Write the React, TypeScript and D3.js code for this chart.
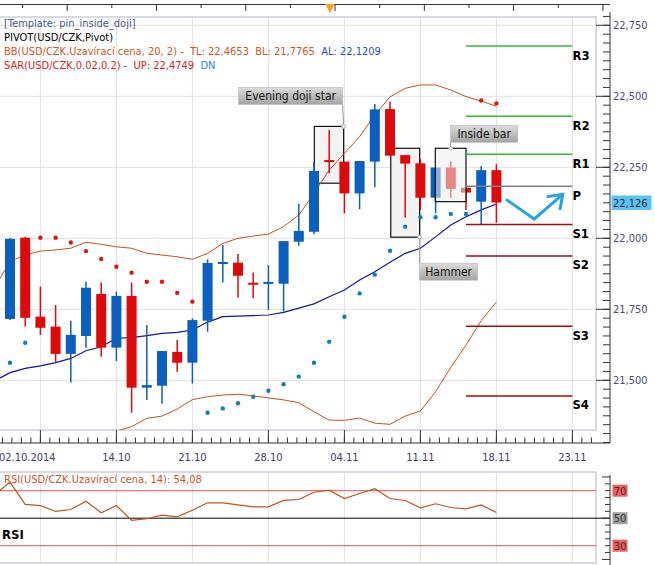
import * as d3 from "d3";

// daily candles, index 0 = first visible bar
const opens = [21.716, 22.002, 21.724, 21.689, 21.593, 21.656, 21.804, 21.615, 21.797, 21.474, 21.481, 21.6, 21.562, 21.71, 21.911, 21.914, 21.84, 21.84, 21.84, 21.988, 22.023, 22.272, 22.27, 22.158, 22.27, 22.455, 22.293, 22.264, 22.143, 22.249, 22.178, 22.129, 22.24];
const highs = [22.001, 22.005, 21.83, 21.765, 21.71, 21.847, 21.844, 21.812, 21.844, 21.695, 21.603, 21.642, 21.718, 21.926, 21.976, 21.945, 21.88, 21.906, 21.99, 22.121, 22.27, 22.381, 22.27, 22.272, 22.473, 22.481, 22.293, 22.279, 22.249, 22.27, 22.178, 22.255, 22.261];
const lows = [21.712, 21.689, 21.66, 21.565, 21.492, 21.615, 21.583, 21.568, 21.386, 21.431, 21.417, 21.53, 21.489, 21.671, 21.844, 21.791, 21.789, 21.748, 21.742, 21.974, 22.014, 22.229, 22.088, 22.102, 22.18, 22.291, 22.073, 22.1, 22.088, 22.143, 22.1, 22.047, 22.055];
const closes = [21.998, 21.72, 21.685, 21.593, 21.66, 21.826, 21.615, 21.797, 21.474, 21.483, 21.603, 21.562, 21.712, 21.913, 21.913, 21.868, 21.838, 21.843, 21.99, 22.026, 22.237, 22.268, 22.158, 22.272, 22.454, 22.291, 22.263, 22.143, 22.249, 22.174, 22.161, 22.24, 22.126];

// indicator series start one bar before the first visible candle (index -1)
const bbUpper = [21.829, 21.918, 21.941, 21.955, 21.959, 21.965, 21.986, 21.979, 21.97, 21.965, 21.947, 21.941, 21.935, 21.926, 21.947, 21.982, 22.0, 22.008, 22.015, 22.041, 22.082, 22.158, 22.24, 22.299, 22.358, 22.434, 22.498, 22.528, 22.54, 22.54, 22.522, 22.499, 22.483, 22.465];
const bbMiddle = [21.498, 21.527, 21.542, 21.551, 21.562, 21.577, 21.604, 21.618, 21.648, 21.65, 21.657, 21.665, 21.669, 21.677, 21.705, 21.724, 21.726, 21.728, 21.73, 21.739, 21.754, 21.769, 21.794, 21.818, 21.853, 21.882, 21.916, 21.947, 21.965, 22.005, 22.047, 22.076, 22.1, 22.121];
const bbLower = [21.167, 21.135, 21.142, 21.149, 21.167, 21.191, 21.223, 21.258, 21.321, 21.337, 21.366, 21.374, 21.399, 21.432, 21.442, 21.448, 21.451, 21.445, 21.438, 21.431, 21.421, 21.389, 21.36, 21.359, 21.367, 21.349, 21.345, 21.374, 21.392, 21.46, 21.546, 21.624, 21.71, 21.776];
const rsiValues = [67.2, 76.2, 60.0, 59.2, 54.9, 56.3, 62.4, 53.9, 59.2, 48.5, 49.6, 52.2, 51.0, 55.8, 61.2, 61.2, 59.7, 58.3, 58.3, 62.9, 63.6, 68.9, 70.4, 64.3, 68.0, 71.4, 64.3, 62.9, 57.6, 60.5, 57.8, 56.8, 59.7, 54.08];

// parabolic SAR, index 0..32
const sarValues = [21.562, 21.632, 22.002, 22.002, 21.985, 21.955, 21.927, 21.9, 21.879, 21.847, 21.847, 21.808, 21.777, 21.386, 21.401, 21.419, 21.442, 21.463, 21.486, 21.513, 21.562, 21.636, 21.724, 21.806, 21.872, 21.956, 22.041, 22.074, 22.074, 22.086, 22.086, 22.485, 22.475];

const pivotNames = ["R3", "R2", "R1", "P", "S1", "S2", "S3", "S4"];
const pivotValues = [22.677, 22.43, 22.296, 22.183, 22.049, 21.938, 21.69, 21.445];

const priceTicks = [21.5, 21.75, 22.0, 22.25, 22.5, 22.75];
const gridIndex = [2, 7, 12, 17, 22, 27, 32, 37];
const dateLabels = ["02.10.2014", "14.10", "21.10", "28.10", "04.11", "11.11", "18.11", "23.11"];
const rsiLevels = [70, 50, 30];

const font = "'DejaVu Sans Condensed', 'DejaVu Sans', sans-serif";

const panel = { left: -1, right: 596, top: 17, bottom: 430 };
const rsiPanel = { top: 472, bottom: 563 };
const axisX = 610;
const axisY = 443;

const BLUE = "#0b5fbf";
const RED = "#dc0a0a";

export default function App() {
  const x = d3.scaleLinear().domain([0, 32]).range([10, 10 + 32 * 15.2]);
  const y = d3.scaleLinear().domain([21.5, 22.75]).range([380.3, 25.3]);
  const ry = d3.scaleLinear().domain([30, 70]).range([545.7, 490.7]);

  const fromPrev = (v: number[]) => v.map((d, i) => [x(i - 1), y(d)] as [number, number]);
  const line = d3.line();
  const rsiLine = d3.line<number>().x((_, i) => x(i - 1)).y((d) => ry(d));

  const fmt = (v: number) => v.toFixed(3).replace(".", ",");

  // axis minor ticks
  const priceMinor = d3.range(21.28125, 22.8, 0.03125);
  const dateMinor = d3.range(-0.5, 38.6, 0.625);
  const rsiTicks = d3.range(20, 81, 5);
  const topTicks = d3.range(22.5, 610, 44.65);

  const annotations = [
    { label: "Evening doji star", i0: 20.02, i1: 21.95, p0: 22.394, p1: 22.194, overlay: false, anchor: "tr", w: 104, dx: -105, dy: -39 },
    { label: "Hammer", i0: 25.05, i1: 26.95, p0: 22.317, p1: 22.004, overlay: false, anchor: "br", w: 58, dx: 0, dy: 26 },
    { label: "Inside bar", i0: 27.98, i1: 30.0, p0: 22.317, p1: 22.129, overlay: true, anchor: "tc", w: 67, dx: 0, dy: -23 },
  ];

  const arrowPts: [number, number][] = [[32.63, 22.137], [34.49, 22.068], [36.36, 22.155]];
  const arrowHead: [number, number][] = [[35.31, 22.146], [36.36, 22.155], [36.18, 22.1]];

  const boxRect = (a: (typeof annotations)[number]) => {
    const bx0 = x(a.i0), bx1 = x(a.i1), by0 = y(a.p0), by1 = y(a.p1);
    let ax = bx1, ay = by0;
    if (a.anchor === "br") { ax = bx1; ay = by1; }
    if (a.anchor === "tc") { ax = (bx0 + bx1) / 2; ay = by0; }
    return { bx0, bx1, by0, by1, ax, ay };
  };

  const candles = opens.map((o, i) => {
    const c = closes[i];
    const up = c >= o;
    const top = y(Math.max(o, c));
    const h = Math.max(2, Math.abs(y(o) - y(c)));
    return (
      <g key={`c-${i}`} stroke={up ? BLUE : RED} fill={up ? BLUE : RED}>
        <line x1={x(i)} x2={x(i)} y1={y(highs[i])} y2={y(lows[i])} strokeWidth={1.5} />
        <rect x={x(i) - 5} y={h === 2 ? top - 1 : top} width={10} height={h} stroke="none" />
      </g>
    );
  });

  const drawBox = (a: (typeof annotations)[number], k: number) => {
    const r = boxRect(a);
    return (
      <rect
        key={`box-${k}`}
        x={r.bx0}
        y={r.by0}
        width={r.bx1 - r.bx0}
        height={r.by1 - r.by0}
        fill={a.overlay ? "#eeeeee" : "#f3f3f3"}
        fillOpacity={a.overlay ? 0.55 : 1}
        stroke="#111"
        strokeWidth={1.2}
      />
    );
  };

  return (
    <svg width={655} height={565} style={{ position: "absolute", left: 0, top: 0, background: "#fff" }} fontFamily={font}>
      <defs>
        <clipPath id="main-clip">
          <rect x={0} y={panel.top} width={panel.right} height={panel.bottom - panel.top} />
        </clipPath>
        <clipPath id="rsi-clip">
          <rect x={0} y={rsiPanel.top} width={panel.right} height={rsiPanel.bottom - rsiPanel.top} />
        </clipPath>
        <linearGradient id="lbl" x1="0" y1="0" x2="0" y2="1">
          <stop offset="0" stopColor="#dcdcdc" />
          <stop offset="1" stopColor="#a4a4a4" />
        </linearGradient>
      </defs>

      {/* top scroller strip */}
      <line x1={0} x2={axisX} y1={4.5} y2={4.5} stroke="#333" />
      {topTicks.map((t, i) => (
        <line key={`tt-${i}`} x1={t} x2={t} y1={4.5} y2={i % 2 === 1 ? 11 : 8} stroke="#333" />
      ))}
      <path d="M325,4 L335,4 L330,13 Z" fill="#f5a623" />

      {/* main panel */}
      <rect x={panel.left} y={panel.top} width={panel.right - panel.left} height={panel.bottom - panel.top} fill="#fff" stroke="#d6dae2" strokeWidth={2} />
      <g clipPath="url(#main-clip)">
        {priceTicks.map((p) => (
          <line key={`hg-${p}`} x1={0} x2={panel.right} y1={y(p)} y2={y(p)} stroke="#e0e0e0" />
        ))}
        {gridIndex.map((g) => (
          <line key={`vg-${g}`} x1={x(g)} x2={x(g)} y1={panel.top} y2={panel.bottom} stroke="#e0e0e0" />
        ))}

        {annotations.filter((a) => !a.overlay).map((a, k) => drawBox(a, k))}

        <path d={line(fromPrev(bbUpper)) || ""} fill="none" stroke="#c4531c" strokeWidth={1} />
        <path d={line(fromPrev(bbLower)) || ""} fill="none" stroke="#c4531c" strokeWidth={1} />
        <path d={line(fromPrev(bbMiddle)) || ""} fill="none" stroke="#1414a0" strokeWidth={1.2} />

        {candles}

        {sarValues.map((s, i) => (
          <circle key={`sar-${i}`} cx={x(i)} cy={y(s)} r={2.2} fill={s > highs[i] ? "#dd1515" : "#1180b8"} />
        ))}

        {annotations.filter((a) => a.overlay).map((a, k) => drawBox(a, k + 10))}

        {pivotNames.map((n, i) => {
          const v = pivotValues[i];
          const color = n.startsWith("R") ? "#2cbf2c" : n === "P" ? "#808080" : "#a30d0d";
          return (
            <g key={`pv-${n}`}>
              <line x1={x(30)} x2={x(37)} y1={y(v)} y2={y(v)} stroke={color} strokeWidth={1.5} />
              <text x={x(37)} y={y(v) + 13.5} fontSize={13} fontWeight="bold" fill="#000">{n}</text>
            </g>
          );
        })}

        <path d={line(arrowPts.map(([i, p]) => [x(i), y(p)])) || ""} fill="none" stroke="#2aa4de" strokeWidth={3} />
        <path d={line(arrowHead.map(([i, p]) => [x(i), y(p)])) || ""} fill="none" stroke="#2aa4de" strokeWidth={3} />

        {annotations.map((a, k) => {
          const r = boxRect(a);
          const lx = r.ax + a.dx;
          const ly = r.ay + a.dy;
          const lh = 17;
          const cy = a.dy < 0 ? ly + lh : ly;
          return (
            <g key={`lbl-${k}`}>
              <line x1={r.ax} x2={a.anchor === "tr" ? r.ax - 1 : r.ax} y1={r.ay} y2={cy} stroke="#999" />
              <circle cx={r.ax} cy={r.ay} r={1.8} fill="#fff" stroke="#aaa" />
              <rect x={lx} y={ly} width={a.w} height={lh} fill="url(#lbl)" stroke="#b8b8b8" strokeWidth={0.6} />
              <text x={lx + a.w / 2} y={ly + 12.5} textAnchor="middle" fontSize={12} fill="#111">{a.label}</text>
            </g>
          );
        })}
      </g>

      {/* legend */}
      <g fontSize={11}>
        <text x={4} y={27} fill="#4b5894">[Template: pin_inside_doji]</text>
        <text x={4} y={41} fill="#000">PIVOT(USD/CZK,Pivot)</text>
        <text x={4} y={55} fill="#d2561a" xmlSpace="preserve">
          {"BB(USD/CZK.Uzavírací cena, 20, 2) -  TL: 22,4653  BL: 21,7765  "}
          <tspan fill="#2a4dd0">AL: 22,1209</tspan>
        </text>
        <text x={4} y={69} fill="#e0201c" xmlSpace="preserve">
          {"SAR(USD/CZK,0.02,0.2) -  UP: 22,4749  "}
          <tspan fill="#2b86c8">DN</tspan>
        </text>
      </g>

      {/* right price axis */}
      <line x1={axisX} x2={axisX} y1={12} y2={axisY} stroke="#333" />
      {priceMinor.map((p, i) => (
        <line key={`pm-${i}`} x1={axisX - 7} x2={axisX} y1={y(p)} y2={y(p)} stroke="#333" />
      ))}
      {priceTicks.map((p) => (
        <g key={`pt-${p}`}>
          <line x1={axisX - 14} x2={axisX} y1={y(p)} y2={y(p)} stroke="#333" />
          <text x={613} y={y(p) + 4} fontSize={11} fill="#4a4a78">{fmt(p)}</text>
        </g>
      ))}
      <rect x={611.5} y={y(closes[closes.length - 1]) - 7} width={40} height={14.5} fill="#5cc3f2" />
      <text x={613} y={y(closes[closes.length - 1]) + 4} fontSize={11} fill="#1e2a40">{fmt(closes[closes.length - 1])}</text>

      {/* bottom date axis */}
      <line x1={0} x2={axisX} y1={axisY} y2={axisY} stroke="#333" />
      {dateMinor.map((d, i) => (
        <line key={`dm-${i}`} x1={x(d)} x2={x(d)} y1={axisY - 5.5} y2={axisY} stroke="#333" />
      ))}
      {gridIndex.map((g, i) => (
        <g key={`dt-${g}`}>
          <line x1={x(g)} x2={x(g)} y1={panel.bottom} y2={axisY} stroke="#333" />
          <text x={i === 0 ? -1 : x(g)} y={460.5} textAnchor={i === 0 ? "start" : "middle"} fontSize={11} fill="#404070">
            {dateLabels[i]}
          </text>
        </g>
      ))}

      {/* RSI panel */}
      <rect x={panel.left} y={rsiPanel.top} width={panel.right - panel.left} height={rsiPanel.bottom - rsiPanel.top} fill="#fff" stroke="#d6dae2" strokeWidth={2} />
      <g clipPath="url(#rsi-clip)">
        {gridIndex.map((g) => (
          <line key={`rvg-${g}`} x1={x(g)} x2={x(g)} y1={rsiPanel.top} y2={rsiPanel.bottom} stroke="#e0e0e0" />
        ))}
        {rsiLevels.map((l) => (
          <line key={`rl-${l}`} x1={0} x2={panel.right} y1={ry(l)} y2={ry(l)} stroke={l === 50 ? "#000" : "#e8564e"} strokeWidth={1} />
        ))}
        <path d={rsiLine(rsiValues) || ""} fill="none" stroke="#c4531c" strokeWidth={1.2} />
      </g>
      <line x1={panel.right} x2={axisX} y1={ry(50)} y2={ry(50)} stroke="#000" />
      <text x={4} y={483} fontSize={11} fill="#c8561e">RSI(USD/CZK.Uzavírací cena, 14): 54,08</text>
      <text x={2} y={538.5} fontSize={13} fontWeight="bold" fill="#000">RSI</text>

      <line x1={axisX} x2={axisX} y1={475} y2={565} stroke="#333" />
      {rsiTicks.map((t) => (
        <line key={`rt-${t}`} x1={axisX - (t % 30 === 20 ? 8 : 5)} x2={axisX} y1={ry(t)} y2={ry(t)} stroke="#333" />
      ))}
      {rsiLevels.map((l) => (
        <g key={`rlab-${l}`}>
          <rect x={612.5} y={ry(l) - 6} width={15} height={12} fill={l === 50 ? "#a0a0a0" : "#f25c5c"} />
          <text x={620} y={ry(l) + 4} textAnchor="middle" fontSize={11} fill="#333">{l}</text>
        </g>
      ))}
    </svg>
  );
}
